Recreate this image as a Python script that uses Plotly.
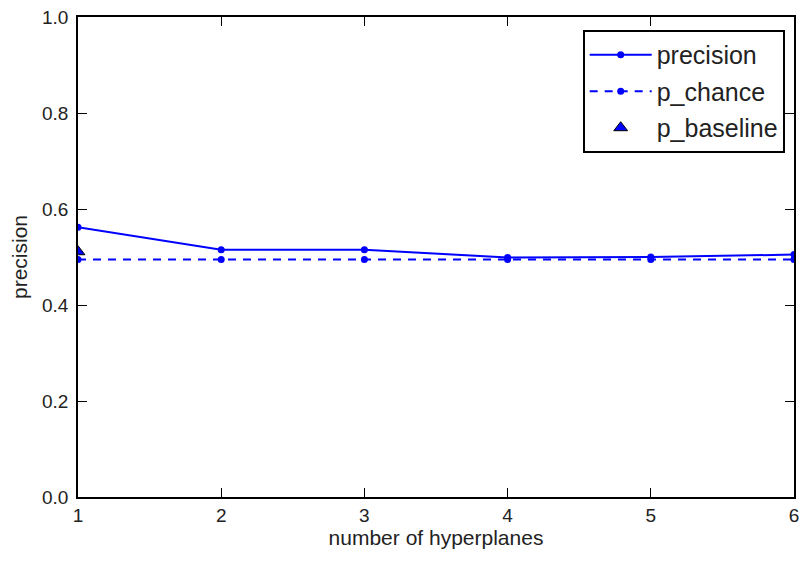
import plotly.graph_objects as go

hyperplanes = [1, 2, 3, 4, 5, 6]
precision = [0.562, 0.515, 0.515, 0.499, 0.500, 0.505]
p_chance = [0.495, 0.495, 0.495, 0.495, 0.495, 0.495]
baseline_x = [1]
p_baseline = [0.511]

x_ticks = [1, 2, 3, 4, 5, 6]
y_ticks = [0.0, 0.2, 0.4, 0.6, 0.8, 1.0]
y_tick_labels = ["0.0", "0.2", "0.4", "0.6", "0.8", "1.0"]

FONT = "Liberation Sans, Arial, sans-serif"
blue = "#0000ff"
fig = go.Figure()
fig.add_trace(go.Scatter(x=hyperplanes, y=precision, name="precision", mode="lines+markers",
                         line=dict(color=blue, width=2), marker=dict(color=blue, size=7),
                         legendgroup="a"))
fig.add_trace(go.Scatter(x=hyperplanes, y=p_chance, name="p_chance", mode="lines+markers",
                         line=dict(color=blue, width=2, dash="8px,7px"), marker=dict(color=blue, size=7),
                         legendgroup="b"))
fig.add_trace(go.Scatter(x=baseline_x, y=p_baseline, name="p_baseline", mode="markers",
                         marker=dict(color=blue, size=12, symbol="triangle-up",
                                     line=dict(color="black", width=1)),
                         legendgroup="c"))

axis_common = dict(showgrid=False, zeroline=False, showline=True, linecolor="black", linewidth=1.5,
                   mirror="ticks", ticks="inside", ticklen=9, tickwidth=1, tickcolor="black",
                   tickfont=dict(family=FONT, size=19, color="#222"))
fig.update_xaxes(range=[1, 6], tickvals=x_ticks, ticklabelstandoff=0,
                 title=dict(text="number of hyperplanes", font=dict(family=FONT, size=21, color="#222"),
                            standoff=6),
                 **axis_common)
fig.update_yaxes(range=[0, 1], tickvals=y_ticks, ticktext=y_tick_labels, ticklabelstandoff=4,
                 title=dict(text="precision", font=dict(family=FONT, size=21, color="#222"), standoff=9),
                 **axis_common)
fig.update_layout(
    width=806, height=563,
    margin=dict(l=78, r=7, t=17, b=66),
    plot_bgcolor="white", paper_bgcolor="white",
    legend=dict(x=0.987, y=0.973, xanchor="right", yanchor="top",
                bordercolor="black", borderwidth=2, bgcolor="white",
                font=dict(family=FONT, size=25, color="#222"),
                tracegroupgap=1, itemwidth=62),
    showlegend=True,
)
fig.write_html("out.html", config={"displayModeBar": False},
               post_script="document.body.style.margin='0';")
